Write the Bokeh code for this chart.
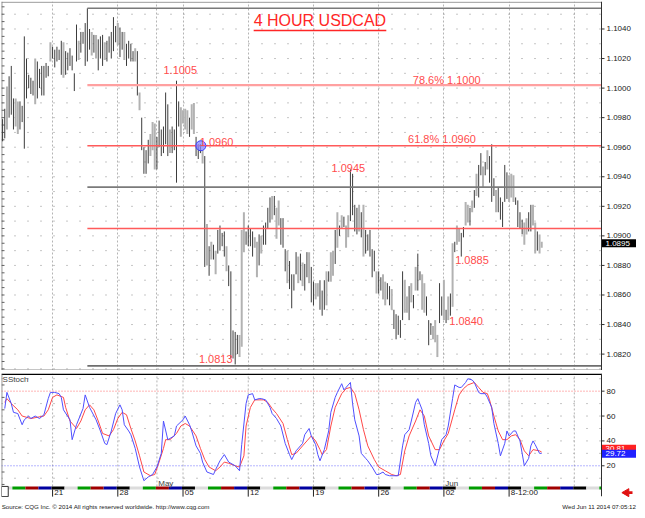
from bokeh.plotting import figure
from bokeh.layouts import column
from bokeh.models import Range1d, FixedTicker, Div, ColumnDataSource
from bokeh.core.properties import value
from bokeh.embed import file_html
from bokeh.resources import INLINE

# ---------------- data ----------------
# 4-hour USDCAD bars, prices stored as pips above 1.0800
PIP_BASE = 1.0800
PIP = 0.0001

bar_high_pips = [
    179, 186, 201, 208, 215, 193, 193, 191, 191, 188,
    235, 220, 209, 207, 205, 220, 218, 213, 215, 215,
    217, 215, 231, 228, 226, 228, 226, 232, 231, 225,
    224, 227, 222, 210, 243, 232, 238, 238, 244, 254,
    240, 238, 236, 236, 233, 235, 236, 231, 232, 235,
    238, 248, 242, 244, 241, 238, 238, 230, 232, 230,
    225, 227, 225, 197, 180, 160, 158, 165, 169, 177,
    176, 167, 178, 172, 174, 197, 189, 172, 174, 172,
    205, 191, 187, 185, 186, 185, 180, 189, 190, 167,
    162, 162, 158, 154, 108, 93, 96, 94, 90, 104,
    107, 102, 103, 93, 80, 76, 36, 35, 33, 33,
    104, 116, 103, 107, 105, 103, 99, 96, 101, 100,
    107, 109, 119, 126, 127, 127, 119, 124, 112, 112,
    91, 90, 83, 74, 74, 89, 86, 88, 82, 81,
    89, 89, 79, 69, 68, 68, 70, 63, 70, 76,
    76, 89, 90, 104, 116, 107, 114, 113, 107, 114,
    145, 142, 121, 119, 121, 116, 121, 104, 101, 104,
    91, 90, 76, 76, 72, 74, 69, 68, 66, 64,
    50, 47, 46, 43, 76, 70, 59, 66, 68, 60,
    79, 88, 76, 74, 68, 59, 43, 41, 39, 43,
    33, 68, 59, 70, 50, 59, 61, 95, 96, 107,
    105, 102, 106, 123, 121, 119, 124, 131, 142, 148,
    156, 147, 150, 158, 154, 162, 139, 131, 133, 126,
    123, 148, 143, 141, 142, 141, 126, 124, 116, 111,
    109, 112, 116, 121, 121, 109, 103, 101, 96,
]
bar_low_pips = [
    164, 166, 172, 180, 182, 172, 174, 169, 172, 177,
    159, 193, 200, 196, 195, 189, 193, 200, 195, 195,
    207, 208, 218, 220, 214, 218, 219, 209, 207, 209,
    212, 215, 212, 198, 218, 219, 224, 230, 215, 218,
    226, 222, 224, 220, 212, 220, 215, 219, 218, 224,
    220, 225, 231, 229, 221, 226, 219, 215, 220, 218,
    218, 218, 195, 185, 158, 142, 142, 149, 154, 158,
    145, 145, 160, 154, 156, 162, 154, 156, 156, 158,
    136, 174, 167, 176, 172, 169, 167, 172, 169, 154,
    152, 156, 149, 79, 80, 73, 84, 84, 74, 88,
    90, 93, 86, 76, 66, 17, 17, 13, 20, 18,
    25, 89, 94, 93, 93, 86, 92, 72, 80, 88,
    94, 94, 105, 109, 111, 114, 98, 107, 94, 92,
    76, 68, 64, 51, 63, 74, 68, 70, 66, 63,
    72, 68, 55, 53, 57, 59, 50, 46, 50, 53,
    69, 69, 73, 81, 92, 100, 105, 106, 92, 99,
    110, 114, 103, 101, 103, 99, 86, 88, 90, 86,
    72, 76, 61, 61, 63, 57, 53, 57, 53, 50,
    37, 30, 33, 31, 43, 48, 48, 43, 55, 51,
    63, 63, 70, 50, 48, 46, 26, 33, 30, 28,
    18, 41, 46, 43, 41, 43, 46, 52, 89, 94,
    96, 86, 99, 107, 109, 107, 116, 119, 127, 126,
    141, 133, 141, 145, 136, 123, 127, 116, 116, 111,
    106, 123, 125, 123, 126, 123, 121, 106, 105, 101,
    94, 101, 103, 103, 107, 88, 90, 88, 92,
]
# 1 = up bar (drawn light grey), 0 = down bar (dark)
bar_up = [
    0, 0, 1, 0, 0, 0, 1, 1, 0, 0,
    0, 0, 0, 0, 0, 1, 0, 0, 0, 0,
    0, 0, 1, 0, 0, 0, 0, 0, 1, 0,
    0, 0, 0, 0, 0, 1, 0, 0, 0, 0,
    0, 1, 0, 1, 0, 0, 0, 1, 0, 0,
    0, 0, 0, 1, 0, 0, 1, 0, 0, 0,
    0, 1, 0, 1, 0, 0, 0, 0, 1, 1,
    1, 0, 0, 0, 0, 0, 0, 1, 0, 0,
    0, 0, 1, 1, 1, 1, 0, 1, 1, 0,
    0, 0, 1, 0, 1, 0, 1, 0, 1, 0,
    0, 0, 0, 1, 0, 0, 0, 0, 0, 1,
    1, 1, 0, 0, 0, 0, 1, 1, 0, 1,
    0, 0, 0, 0, 1, 0, 1, 1, 0, 0,
    0, 1, 0, 0, 0, 0, 1, 0, 1, 0,
    0, 1, 0, 0, 1, 1, 0, 0, 0, 1,
    0, 1, 1, 0, 1, 0, 1, 0, 1, 1,
    0, 0, 0, 0, 1, 0, 1, 0, 0, 0,
    0, 0, 1, 0, 0, 1, 1, 0, 0, 1,
    0, 0, 0, 0, 0, 1, 1, 0, 1, 0,
    1, 0, 0, 1, 1, 0, 0, 0, 1, 1,
    1, 0, 0, 1, 0, 1, 0, 1, 0, 1,
    1, 0, 0, 1, 1, 0, 1, 0, 1, 0,
    0, 1, 0, 1, 0, 0, 0, 1, 0, 0,
    0, 0, 0, 1, 1, 1, 0, 0, 0, 0,
    1, 1, 0, 0, 1, 1, 0, 1, 1,
]
bar_index = list(range(1, len(bar_high_pips) + 1))

# horizontal study lines (start at bar 40)
level_prices = [1.1054, 1.1002, 1.0961, 1.0933, 1.0905, 1.0812]
level_colors = ["#7a7a7a", "#ffa0a0", "#ff5a5a", "#7a7a7a", "#ff5a5a", "#6e6e6e"]
level_widths = [1.6, 2.2, 1.4, 1.6, 1.4, 1.6]
level_start = 40

# red annotations
note_text = ["1.1005", "1.0960", "78.6% 1.1000", "61.8% 1.0960",
             "1.0945", "1.0885", "1.0840", "1.0813"]
note_x = [75.0, 91.7, 189.7, 187.5, 152.3, 209.2, 206.5, 91.3]
note_y = [1.1012, 1.09637, 1.10054, 1.09657, 1.09458, 1.08837, 1.08427, 1.08169]
marker_pos = (92.2, 1.0961)

title_text = "4 HOUR USDCAD"
title_pos = (116.5, 1.10455)
title_end = 177.5

price_ticks = [1.0820, 1.0840, 1.0860, 1.0880, 1.0900, 1.0920, 1.0940,
               1.0960, 1.0980, 1.1000, 1.1020, 1.1040]
price_grid = [1.081, 1.082, 1.083, 1.084, 1.085, 1.086, 1.087, 1.088, 1.089,
              1.090, 1.091, 1.092, 1.093, 1.094, 1.095, 1.096, 1.097, 1.098,
              1.099, 1.100, 1.101, 1.102, 1.103, 1.104, 1.105]
last_price = 1.0895

week_ticks = [24, 54, 84, 114, 144, 174, 204, 234]
week_labels = ["21", "28", "05", "12", "19", "26", "02", "8-12:00"]
month_ticks = [72, 204]
month_labels = ["May", "Jun"]
vgrid = [24, 54, 72, 84, 114, 144, 174, 204, 234, 264]

stoch_ticks = [20, 40, 60, 80]
stoch_grid = [10, 30, 40, 50, 60, 70, 90]

# slow stochastic: (bar, value)
stoch_fast = [
    (2, 66), (3, 79), (5, 70), (6, 63), (8, 62), (10, 53), (11, 57), (13, 60),
    (14, 58), (16, 60), (18, 58), (20, 61), (22, 74), (23, 79), (25, 79), (27, 78),
    (28, 75), (29, 65), (32, 57), (33, 41), (35, 53), (38, 66), (39, 77), (41, 67),
    (44, 57), (46, 48), (48, 38), (49, 37), (51, 48), (53, 62), (55, 69), (56, 65),
    (57, 53), (59, 48), (60, 45), (62, 34), (64, 19), (66, 8), (68, 11), (70, 13),
    (72, 19), (74, 30), (75, 56), (77, 41), (78, 42), (80, 44), (81, 52), (84, 57),
    (85, 60), (87, 53), (88, 48), (90, 36), (92, 30), (93, 23), (95, 15), (98, 13),
    (99, 17), (101, 24), (103, 29), (105, 23), (108, 20), (110, 16), (111, 37),
    (113, 70), (114, 77), (116, 78), (117, 73), (119, 74), (120, 74), (122, 73),
    (124, 67), (125, 62), (127, 58), (129, 52), (131, 38), (133, 29), (134, 25),
    (136, 32), (139, 38), (140, 45), (142, 50), (143, 44), (145, 37), (146, 29),
    (147, 24), (149, 33), (151, 48), (152, 63), (154, 75), (155, 79), (157, 86),
    (158, 81), (160, 85), (161, 87), (162, 70), (163, 57), (165, 44), (166, 30),
    (168, 26), (169, 24), (171, 19), (173, 13), (174, 13), (176, 15), (177, 13),
    (179, 12), (181, 12), (183, 12), (185, 36), (186, 45), (188, 49), (189, 56),
    (191, 71), (192, 74), (194, 65), (195, 53), (197, 38), (198, 28), (200, 20),
    (202, 34), (203, 41), (205, 45), (206, 52), (208, 74), (209, 85), (211, 83),
    (212, 83), (214, 87), (215, 90), (217, 89), (218, 87), (220, 79), (221, 78),
    (223, 78), (224, 75), (226, 67), (227, 54), (229, 38), (230, 28), (232, 38),
    (233, 48), (234, 44), (236, 48), (237, 48), (239, 40), (240, 30), (241, 20),
    (243, 26), (244, 36), (245, 40), (246, 37), (248, 30), (249, 30),
]
stoch_slow = [
    (2, 71), (3, 74), (5, 70), (8, 65), (10, 60), (12, 59), (14, 58), (17, 59),
    (20, 60), (22, 65), (24, 75), (26, 77), (29, 75), (30, 67), (32, 56), (35, 50),
    (37, 56), (39, 65), (41, 69), (43, 65), (45, 56), (47, 46), (50, 44), (52, 49),
    (54, 58), (56, 63), (58, 61), (60, 50), (62, 40), (64, 28), (66, 15), (69, 12),
    (71, 13), (73, 23), (75, 34), (76, 41), (78, 41), (81, 46), (83, 52), (85, 54),
    (87, 52), (90, 44), (92, 34), (94, 25), (96, 19), (99, 16), (101, 19), (103, 23),
    (105, 22), (108, 20), (110, 19), (112, 28), (113, 52), (115, 67), (117, 73),
    (119, 73), (121, 73), (123, 71), (125, 66), (127, 62), (130, 54), (132, 41),
    (134, 29), (136, 30), (139, 36), (141, 40), (143, 44), (145, 40), (147, 33),
    (148, 29), (150, 33), (152, 52), (154, 67), (157, 78), (159, 82), (161, 83),
    (163, 78), (165, 65), (167, 49), (169, 36), (172, 25), (174, 19), (177, 16),
    (180, 13), (182, 12), (184, 13), (186, 32), (188, 44), (191, 56), (193, 65),
    (195, 60), (197, 44), (200, 33), (202, 33), (204, 40), (206, 46), (209, 65),
    (211, 77), (213, 82), (215, 85), (218, 87), (220, 83), (222, 79), (224, 78),
    (225, 73), (227, 60), (229, 48), (231, 41), (233, 41), (235, 44), (237, 45),
    (239, 41), (241, 32), (243, 28), (245, 33), (248, 32), (249, 31),
]
last_fast = 29.72
last_slow = 30.81

# ---------------- layout constants ----------------
W = 636
FONT = "Liberation Sans"
X_LO, X_HI = 0.5, 276.5          # bar area; right axis drawn beyond X_HI
X_END = 292.6                     # includes the axis strip on the right
PX = (X_END - X_LO) / (W - 1)     # bar units per pixel
AX_COLOR = "#303030"

xr = Range1d(X_LO, X_END)


def right_axis(p, y_lo, y_hi, ticks, labels):
    """Draw a right-hand value axis beyond the bar area."""
    p.segment(x0=[X_HI], x1=[X_HI], y0=[y_lo], y1=[y_hi], line_color=AX_COLOR, line_width=1)
    p.segment(x0=[X_HI] * len(ticks), x1=[X_HI + 3 * PX] * len(ticks),
              y0=ticks, y1=ticks, line_color=AX_COLOR, line_width=1)
    p.text(x=[X_HI + 5 * PX] * len(ticks), y=ticks, text=labels,
           text_font=value(FONT), text_font_size="8px", text_color="#202020",
           text_baseline="middle", text_align="left")


def value_box(p, y, txt, color, unit_per_px):
    half = 4 * unit_per_px
    p.quad(left=[X_HI + 0.5 * PX], right=[X_END], bottom=[y - half], top=[y + half],
           fill_color=color, line_color=None)
    p.text(x=[X_HI + 4 * PX], y=[y], text=[txt], text_font=value(FONT),
           text_font_size="8px", text_color="white", text_baseline="middle",
           text_align="left")


# ---------------- price panel ----------------
Y_LO, Y_HI = 1.08089, 1.10586
H1 = 370
p1 = figure(width=W, height=H1, x_range=xr, y_range=Range1d(Y_LO, Y_HI),
            output_backend="svg", toolbar_location=None, title=None,
            x_axis_location=None, y_axis_location=None,
            min_border_left=1, min_border_right=0, min_border_top=1, min_border_bottom=0,
            outline_line_color=None, background_fill_color="white",
            border_fill_color="white")
PY1 = (Y_HI - Y_LO) / (H1 - 1)

p1.ygrid.visible = False
p1.xgrid.ticker = FixedTicker(ticks=vgrid)
p1.xgrid.grid_line_color = "#b4b4b4"
p1.xgrid.grid_line_dash = "2 2"
p1.segment(x0=[X_LO] * len(price_grid), x1=[X_HI] * len(price_grid),
           y0=price_grid, y1=price_grid, line_color="#8c8c8c", line_dash="1 12")

# frame lines (top, bottom, left)
p1.segment(x0=[X_LO, X_LO], x1=[X_HI, X_HI], y0=[Y_HI - 0.7 * PY1, Y_LO + 0.5 * PY1],
           y1=[Y_HI - 0.7 * PY1, Y_LO + 0.5 * PY1], line_color="#8a8a8a", line_width=1)
p1.segment(x0=[X_LO + 0.3 * PX], x1=[X_LO + 0.3 * PX], y0=[Y_LO], y1=[Y_HI],
           line_color="#606060", line_width=1)
left_ticks = [1.0810 + 0.0005 * k for k in range(50)]
p1.segment(x0=[X_LO] * len(left_ticks), x1=[X_LO + 3 * PX] * len(left_ticks),
           y0=left_ticks, y1=left_ticks, line_color="#606060", line_width=1)

highs = [PIP_BASE + h * PIP for h in bar_high_pips]
lows = [PIP_BASE + l * PIP for l in bar_low_pips]
up_src = ColumnDataSource(dict(
    x=[i for i, u in zip(bar_index, bar_up) if u],
    hi=[h for h, u in zip(highs, bar_up) if u],
    lo=[l for l, u in zip(lows, bar_up) if u]))
dn_src = ColumnDataSource(dict(
    x=[i for i, u in zip(bar_index, bar_up) if not u],
    hi=[h for h, u in zip(highs, bar_up) if not u],
    lo=[l for l, u in zip(lows, bar_up) if not u]))
p1.segment(x0="x", y0="lo", x1="x", y1="hi", source=up_src,
           line_color="#b2b2b2", line_width=2)
p1.segment(x0="x", y0="lo", x1="x", y1="hi", source=dn_src,
           line_color="#3c3c3c", line_width=1)

lvl_src = ColumnDataSource(dict(x0=[level_start] * len(level_prices),
                                x1=[X_HI] * len(level_prices),
                                y=level_prices, c=level_colors, w=level_widths))
p1.segment(x0="x0", y0="y", x1="x1", y1="y", source=lvl_src,
           line_color="c", line_width="w")

p1.scatter(x=[marker_pos[0]], y=[marker_pos[1]], size=10, marker="circle",
           fill_color="#8484ff", fill_alpha=0.75, line_color="#3c3cff")

p1.text(x=note_x, y=note_y, text=note_text, text_font=value(FONT),
        text_font_size="11px", text_color="#ff4c4c",
        text_baseline="middle", text_align="left")

p1.text(x=[title_pos[0]], y=[title_pos[1]], text=[title_text],
        text_font=value(FONT), text_font_size="16px",
        text_color="#ff2626", text_baseline="middle", text_align="left")
p1.segment(x0=[title_pos[0]], x1=[title_end], y0=[1.10390], y1=[1.10390],
           line_color="#ff2626", line_width=1.5)

right_axis(p1, Y_LO, Y_HI, price_ticks, [f"{t:.4f}" for t in price_ticks])
value_box(p1, last_price, f"{last_price:.4f}", "black", PY1)

# ---------------- stochastic panel ----------------
S_LO, S_HI = -5.5, 94.2
H2 = 127
p2 = figure(width=W, height=H2, x_range=xr, y_range=Range1d(S_LO, S_HI),
            output_backend="svg", toolbar_location=None, title=None,
            x_axis_location=None, y_axis_location=None,
            min_border_left=1, min_border_right=0, min_border_top=3, min_border_bottom=0,
            outline_line_color=None, background_fill_color="white",
            border_fill_color="white")
PY2 = (S_HI - S_LO) / (H2 - 3)

p2.ygrid.visible = False
p2.xgrid.visible = False
p2.segment(x0=[X_LO] * len(stoch_grid), x1=[X_HI] * len(stoch_grid),
           y0=stoch_grid, y1=stoch_grid, line_color="#8c8c8c", line_dash="1 12")
p2.segment(x0=vgrid, x1=vgrid, y0=[3.4] * len(vgrid), y1=[S_HI] * len(vgrid),
           line_color="#b4b4b4", line_dash="2 2", line_width=1)

p2.segment(x0=[X_LO], x1=[X_HI], y0=[S_HI - 0.8 * PY2], y1=[S_HI - 0.8 * PY2],
           line_color="black", line_width=1.5)
p2.segment(x0=[X_LO], x1=[X_HI], y0=[80], y1=[80], line_color="#ff6a6a",
           line_dash="1 2", line_width=1)
p2.segment(x0=[X_LO], x1=[X_HI], y0=[20], y1=[20], line_color="#6a6aff",
           line_dash="1 2", line_width=1)
p2.segment(x0=[X_LO + 0.3 * PX], x1=[X_LO + 0.3 * PX], y0=[3.4], y1=[S_HI],
           line_color="#606060", line_width=1)
sleft = [5, 15, 25, 35, 45, 55, 65, 75, 85]
p2.segment(x0=[X_LO] * len(sleft), x1=[X_LO + 3 * PX] * len(sleft),
           y0=sleft, y1=sleft, line_color="#606060", line_width=1)

p2.line([a for a, _ in stoch_slow], [b for _, b in stoch_slow],
        line_color="#ff4848", line_width=1)
p2.line([a for a, _ in stoch_fast], [b for _, b in stoch_fast],
        line_color="#4f4fff", line_width=1)

# day strip: Tue, Wed, Thu, Fri, Mon colour cycle (first bar = Tue 15 Apr)
day_cycle = ["#dcdcdc", "#009c00", "#a00000", "#0000a0", "#000000"]
day_left = list(range(0, 277, 6))
day_src = ColumnDataSource(dict(
    l=[max(d - 0.5, X_LO) for d in day_left], r=[min(d + 5.5, X_HI) for d in day_left],
    c=[day_cycle[k % 5] for k in range(len(day_left))]))
p2.quad(left="l", right="r", bottom=1.0, top=3.4, source=day_src,
        fill_color="c", line_color=None)
p2.quad(left=[X_LO], right=[3.6], bottom=[-4.8], top=[3.4],
        fill_color="white", line_color="#303030", line_width=1)

p2.segment(x0=week_ticks, x1=week_ticks, y0=[1.0] * len(week_ticks),
           y1=[-4.8] * len(week_ticks), line_color="#202020", line_width=1)
p2.text(x=[t + 0.8 for t in week_ticks], y=[-1.6] * len(week_ticks), text=week_labels,
        text_font=value(FONT), text_font_size="8px", text_color="#202020",
        text_baseline="middle", text_align="left")
p2.text(x=[t + 0.6 for t in month_ticks], y=[5.4] * len(month_ticks), text=month_labels,
        text_font=value(FONT), text_font_size="8px", text_color="#404040",
        text_baseline="middle", text_align="left")
p2.text(x=[1.0], y=[92.8], text=["SStoch"], text_font=value(FONT),
        text_font_size="8px", text_color="#404040", text_baseline="top",
        text_align="left")

right_axis(p2, S_LO + 1.0, S_HI, stoch_ticks, [str(t) for t in stoch_ticks])
value_box(p2, 33.6, f"{last_slow:.2f}", "#ff2020", PY2)
value_box(p2, last_fast, f"{last_fast:.2f}", "#2020ff", PY2)

# small red scroll arrow in the date strip (head + tail)
p2.scatter(x=[X_HI + 25 * PX], y=[-1.6], marker="triangle", angle=1.5708, size=8,
           fill_color="#e01010", line_color="#e01010")
p2.quad(left=[X_HI + 27 * PX], right=[X_HI + 31 * PX], bottom=[-1.6 - 1.3 * PY2],
        top=[-1.6 + 1.3 * PY2], fill_color="#e01010", line_color=None)

footer = Div(
    text=("<div style=\"display:flex;justify-content:space-between;width:636px;"
          "font-family:'Liberation Sans',sans-serif;font-size:6.2px;color:#202020;"
          "line-height:10px;\"><span>&nbsp;Source: CQG Inc. &copy; 2014 All rights reserved "
          "worldwide. http://www.cqg.com</span><span>Wed Jun 11 2014 07:05:12</span></div>"),
    width=W, height=11, margin=(0, 0, 0, 0))

layout = column(p1, p2, footer, spacing=0)

with open("out.html", "w") as f:
    f.write(file_html(layout, INLINE))
